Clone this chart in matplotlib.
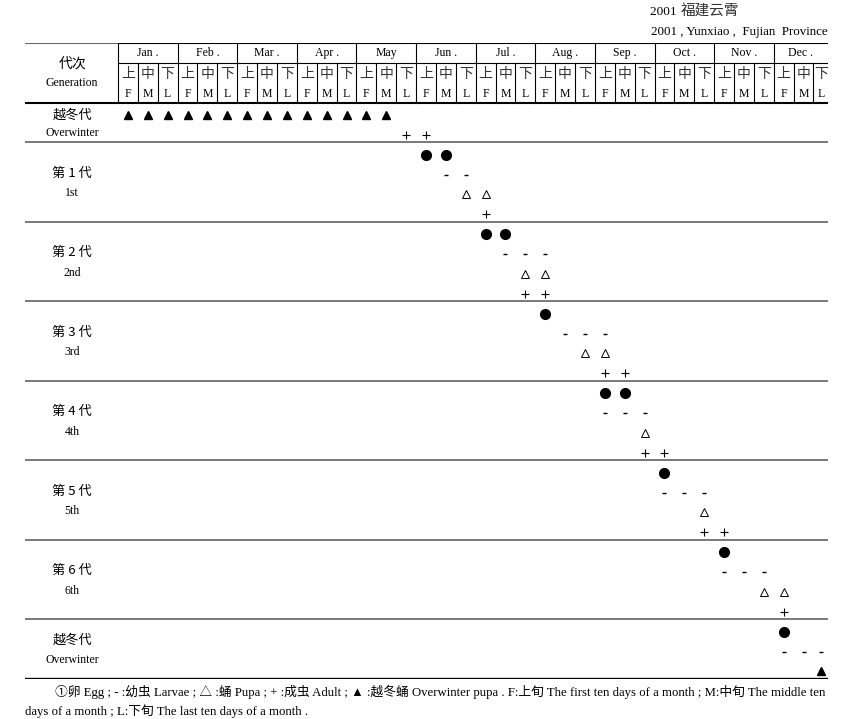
import matplotlib
matplotlib.use('Agg')
import matplotlib.pyplot as plt
import numpy as np

plt.rcParams['font.family'] = ['Liberation Serif', 'Noto Sans CJK SC', 'DejaVu Sans']

# 表头
months = ['Jan .', 'Feb .', 'Mar .', 'Apr .', 'May', 'Jun .', 'Jul .', 'Aug .',
          'Sep .', 'Oct .', 'Nov .', 'Dec .']
dekad_cn = ['上', '中', '下']
dekad_en = ['F', 'M', 'L']

# 世代名称
gen_cn = ['越冬代', '第 1 代', '第 2 代', '第 3 代', '第 4 代', '第 5 代', '第 6 代', '越冬代']
gen_en = ['Overwinter', '1st', '2nd', '3rd', '4th', '5th', '6th', 'Overwinter']

# 每个世代的各虫态所在旬 (0 = 1月上旬 ... 35 = 12月下旬)
overwinter_a = [('owpupa', [0, 1, 2, 3, 4, 5, 6, 7, 8, 9, 10, 11, 12, 13]),
                ('adult', [14, 15])]
gen1 = [('egg', [15, 16]), ('larva', [16, 17]), ('pupa', [17, 18]), ('adult', [18])]
gen2 = [('egg', [18, 19]), ('larva', [19, 20, 21]), ('pupa', [20, 21]), ('adult', [20, 21])]
gen3 = [('egg', [21]), ('larva', [22, 23, 24]), ('pupa', [23, 24]), ('adult', [24, 25])]
gen4 = [('egg', [24, 25]), ('larva', [24, 25, 26]), ('pupa', [26]), ('adult', [26, 27])]
gen5 = [('egg', [27]), ('larva', [27, 28, 29]), ('pupa', [29]), ('adult', [29, 30])]
gen6 = [('egg', [30]), ('larva', [30, 31, 32]), ('pupa', [32, 33]), ('adult', [33])]
overwinter_b = [('egg', [33]), ('larva', [33, 34, 35]), ('owpupa', [35])]
sections = [overwinter_a, gen1, gen2, gen3, gen4, gen5, gen6, overwinter_b]

styles = {
    'egg': dict(marker='o', ms=7, mfc='black', mec='black'),
    'larva': dict(marker='_', ms=3, mew=1.0, mec='black'),
    'pupa': dict(marker='^', ms=6, mfc='white', mec='black', mew=0.7),
    'adult': dict(marker='+', ms=5.5, mew=0.8, mec='black'),
    'owpupa': dict(marker='^', ms=6, mfc='black', mec='black'),
}

W, H = 860, 719
fig = plt.figure(figsize=(W / 100, H / 100), dpi=100)

XL, XR = -4.68, 35.73   # 表格左右边界 (旬单位)
ax = fig.add_axes([25 / W, 1 - 679 / H, (828 - 25) / W, (679 - 43) / H])
ax.set_xlim(XL, XR)
n_rows = sum(len(s) for s in sections)
ax.set_ylim(n_rows, -3)
ax.axis('off')


def col_x(c):
    c = np.asarray(c, dtype=float)
    return np.minimum(c + 0.5, (35 + XR) / 2)


# 表头线
ax.plot([XL, 0], [-3, -3], color='#666666', lw=1.5, solid_capstyle='butt')
ax.plot([0, XR], [-3, -3], color='black', lw=1.5, solid_capstyle='butt')
ax.plot([0, XR], [-2, -2], color='black', lw=0.8)
ax.plot([XL, XR], [0, 0], color='black', lw=1.5)
for c in range(36):
    top = -3 if c % 3 == 0 else -2
    ax.plot([c, c], [top, 0], color='black', lw=0.8)

cn_font = dict(family=['Noto Sans CJK SC', 'Liberation Serif'])
for i, m in enumerate(months):
    ax.text((3 * i + min(3 * i + 3, XR)) / 2, -2.5, m, ha='center', va='center', fontsize=8.5)
for c in range(36):
    x = float(col_x(c))
    ax.text(x, -1.45, dekad_cn[c % 3], ha='center', va='center', fontsize=10, color='#333333', **cn_font)
    ax.text(x, -0.45, dekad_en[c % 3], ha='center', va='center', fontsize=8.5)

ax.text(-2.31, -1.95, '代次', ha='center', va='center', fontsize=10, **cn_font)
ax.text(-2.31, -0.99, 'Generation', ha='center', va='center', fontsize=8.5)

# 数据
r0 = 0
for k, sec in enumerate(sections):
    n = len(sec)
    for j, (stage, cols) in enumerate(sec):
        y = np.full(len(cols), r0 + j + 0.62)
        ax.plot(col_x(cols), y, ls='none', **styles[stage])
    off = 0.1 if n == 2 else 0.0
    ax.text(-2.31, r0 + n / 2 - 0.45 + off, gen_cn[k], ha='center', va='center', fontsize=9.5, **cn_font)
    ax.text(-2.31, r0 + n / 2 + 0.55, gen_en[k], ha='center', va='center', fontsize=8.5)
    r0 += n
    if k < len(sections) - 1:
        ax.plot([XL, XR], [r0, r0], color='#555555', lw=1.1)
ax.plot([XL, XR], [r0, r0], color='black', lw=2.4)

# 标题与注释
fig.text(650 / W, 1 - 12 / H, '2001 ', ha='left', va='center', fontsize=9.5)
fig.text(681 / W, 1 - 12 / H, '福建云霄', ha='left', va='center', fontsize=10.5,
         color='#333333', **cn_font)
fig.text(828 / W, 1 - 32 / H, '2001 , Yunxiao ,  Fujian  Province', ha='right', va='center', fontsize=9.4)
fig.text(55 / W, 1 - 692 / H,
         '①卵 Egg ; - :幼虫 Larvae ; △ :蛹 Pupa ; + :成虫 Adult ; ▲ :越冬蛹 Overwinter pupa . '
         'F:上旬 The first ten days of a month ; M:中旬 The middle ten',
         ha='left', va='center', fontsize=9.2)
fig.text(25 / W, 1 - 711 / H, 'days of a month ; L:下旬 The last ten days of a month .',
         ha='left', va='center', fontsize=9.2)

fig.savefig('out.png', dpi=100)
